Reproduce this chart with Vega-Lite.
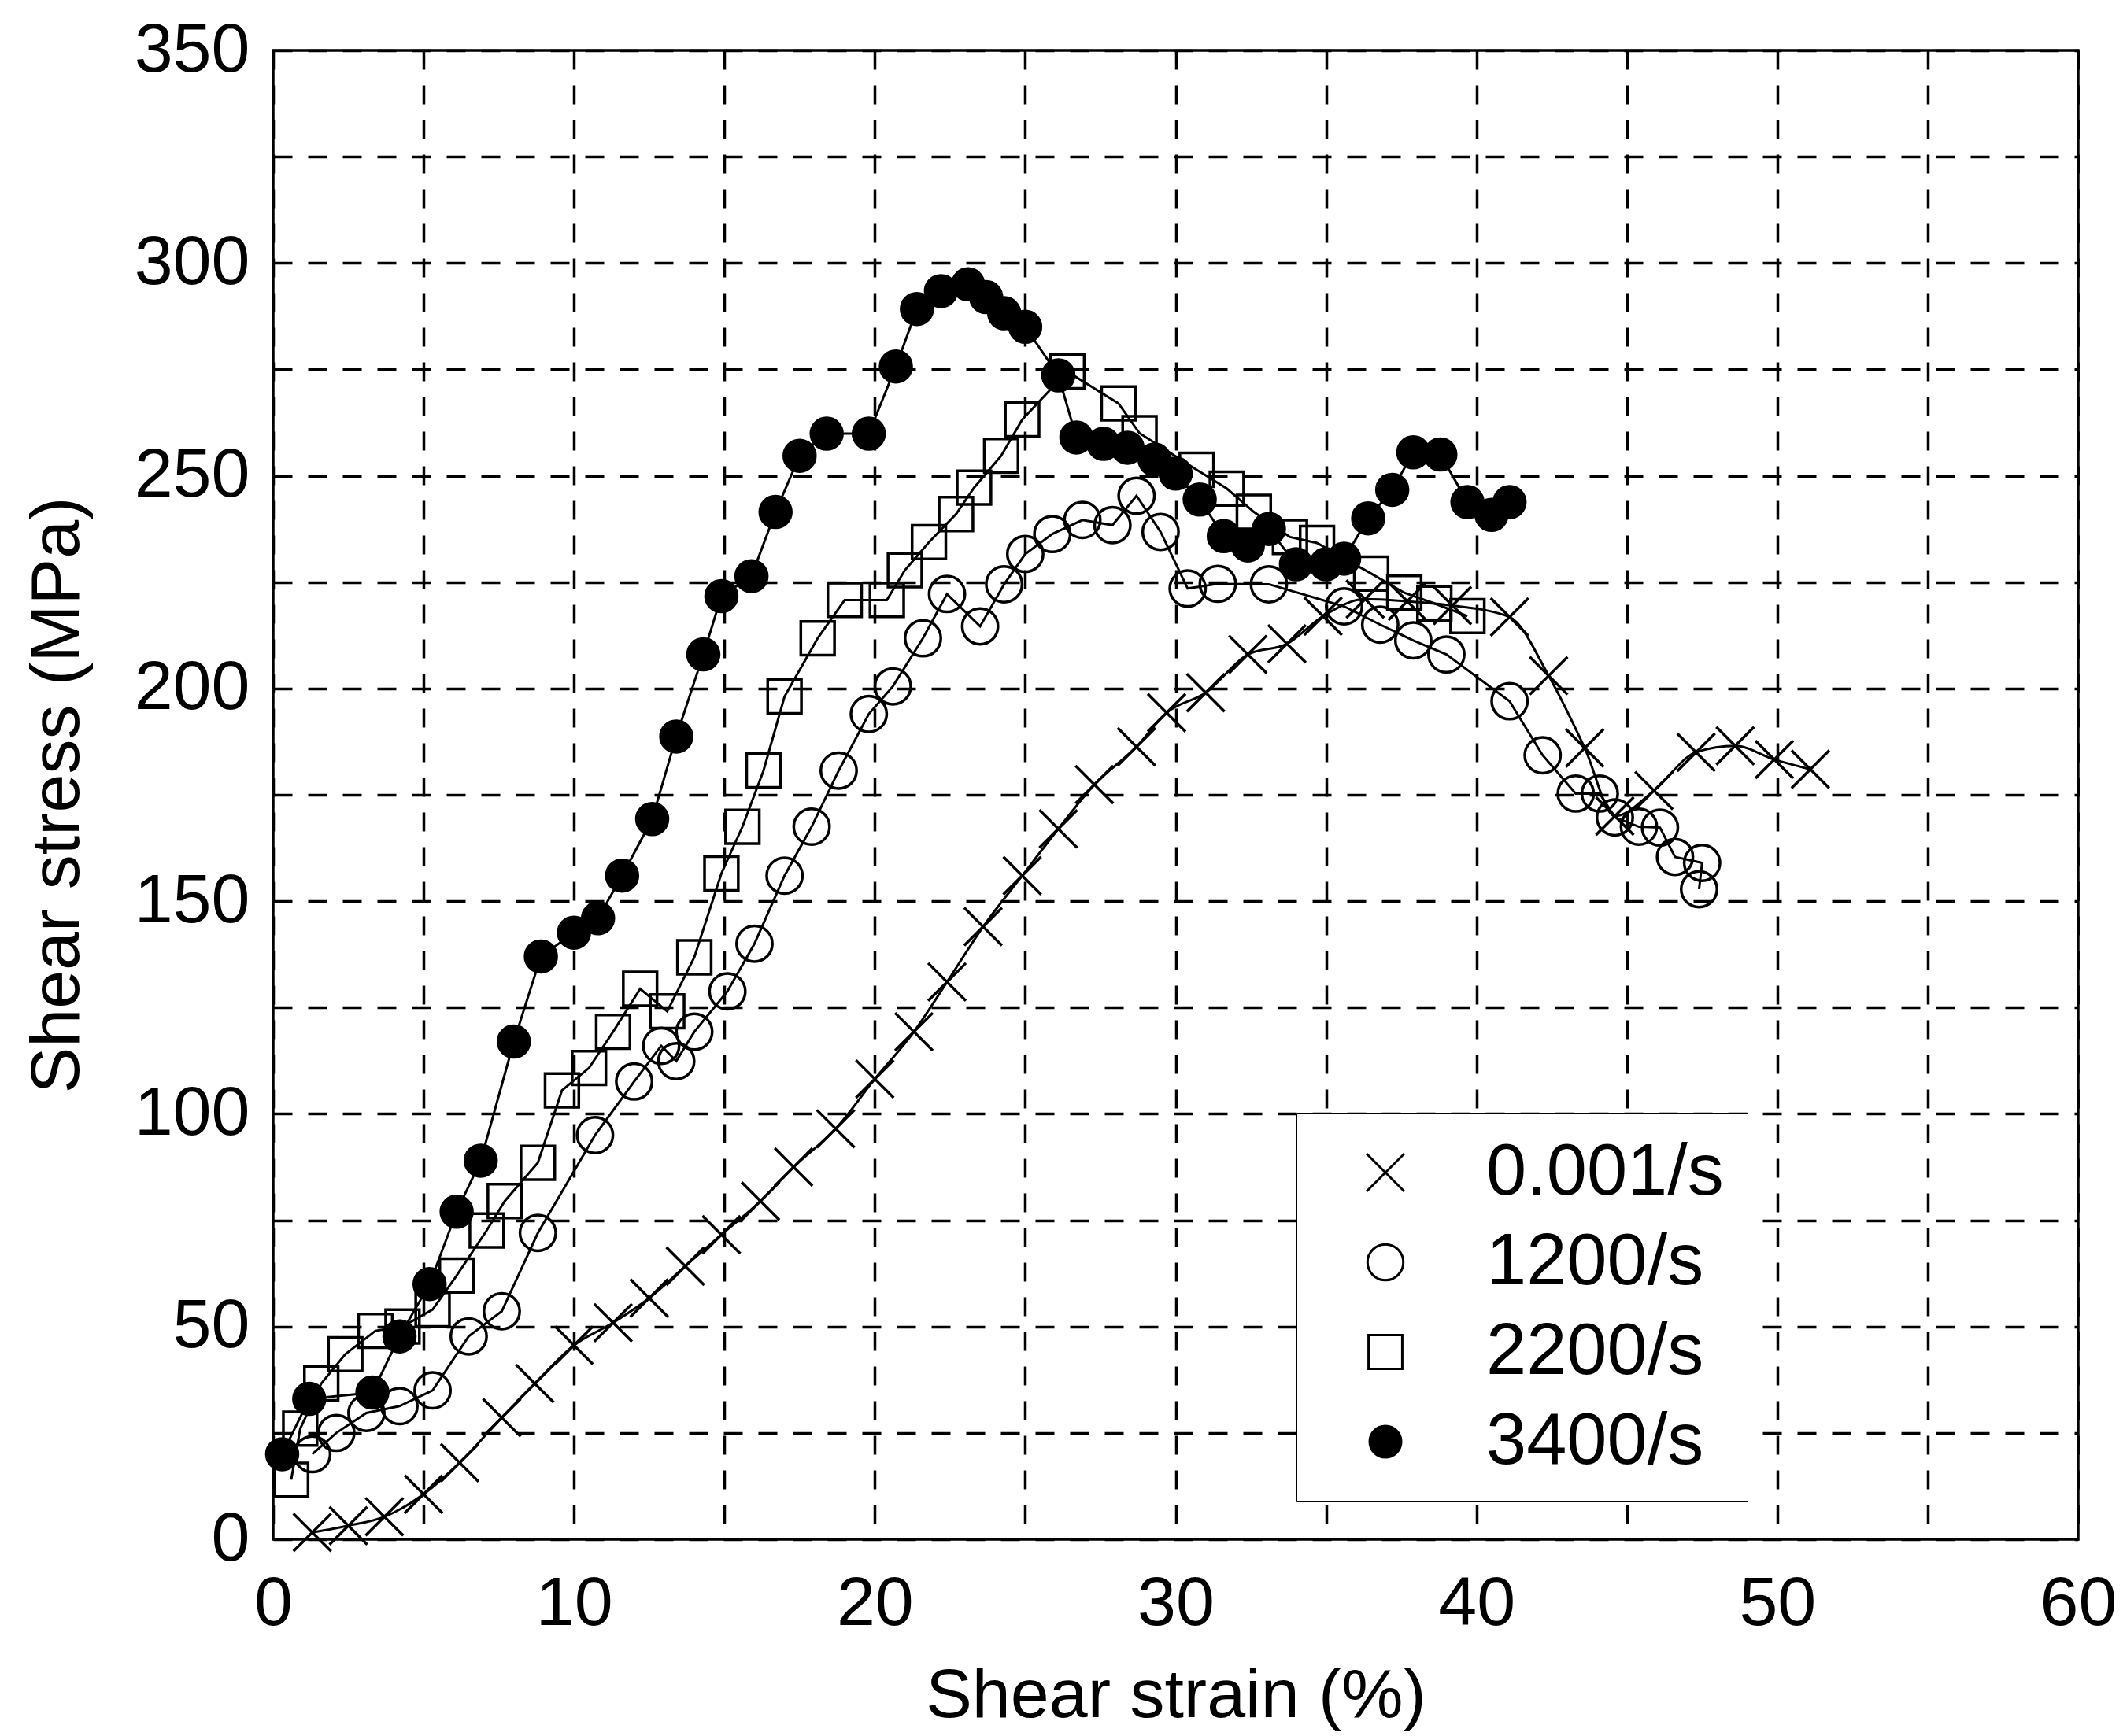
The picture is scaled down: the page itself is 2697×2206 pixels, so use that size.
{
  "$schema": "https://vega.github.io/schema/vega-lite/v6.json",
  "width": 2293,
  "height": 1892,
  "autosize": {"type": "none"},
  "padding": {"left": 347, "top": 64, "right": 57, "bottom": 250},
  "background": "white",
  "config": {
    "view": {"stroke": "black", "strokeWidth": 3.5},
    "font": "Liberation Sans",
    "axis": {
      "grid": true,
      "gridDash": [24, 20],
      "gridColor": "black",
      "gridWidth": 3.5,
      "gridOpacity": 1,
      "ticks": false,
      "domain": false,
      "labelFont": "Liberation Sans",
      "labelFontSize": 88,
      "labelColor": "black",
      "labelFlush": false,
      "labelOverlap": false,
      "titleFont": "Liberation Sans",
      "titleFontSize": 88,
      "titleFontWeight": "normal",
      "titleColor": "black"
    },
    "legend": {
      "title": null,
      "orient": "none",
      "legendX": 1300,
      "legendY": 1350,
      "padding": 30,
      "strokeColor": "black",
      "fillColor": "white",
      "symbolSize": 1936,
      "symbolOffset": 37,
      "labelOffset": 82,
      "rowPadding": 22,
      "labelFontSize": 92,
      "labelFont": "Liberation Sans",
      "labelColor": "black",
      "labelLimit": 0
    }
  },
  "datasets": {
    "pts": [
      {"s":"0.001/s","i":0,"x":1.3,"y":1.6},{"s":"0.001/s","i":1,"x":2.5,"y":3.2},{"s":"0.001/s","i":2,"x":3.7,"y":5.3},{"s":"0.001/s","i":3,"x":5.0,"y":10.6},{"s":"0.001/s","i":4,"x":6.2,"y":18},{"s":"0.001/s","i":5,"x":7.6,"y":28.6},{"s":"0.001/s","i":6,"x":8.7,"y":36.6},{"s":"0.001/s","i":7,"x":10.0,"y":45.6},{"s":"0.001/s","i":8,"x":11.3,"y":50.9},{"s":"0.001/s","i":9,"x":12.5,"y":56.7},{"s":"0.001/s","i":10,"x":13.7,"y":64.2},{"s":"0.001/s","i":11,"x":14.9,"y":71.6},{"s":"0.001/s","i":12,"x":16.2,"y":79.5},{"s":"0.001/s","i":13,"x":17.3,"y":87.5},{"s":"0.001/s","i":14,"x":18.7,"y":96.5},{"s":"0.001/s","i":15,"x":20.0,"y":108.2},{"s":"0.001/s","i":16,"x":21.3,"y":119.3},{"s":"0.001/s","i":17,"x":22.4,"y":131},{"s":"0.001/s","i":18,"x":23.6,"y":144},{"s":"0.001/s","i":19,"x":24.9,"y":156},{"s":"0.001/s","i":20,"x":26.1,"y":167},{"s":"0.001/s","i":21,"x":27.3,"y":177.4},{"s":"0.001/s","i":22,"x":28.7,"y":186.3},{"s":"0.001/s","i":23,"x":29.7,"y":194.3},{"s":"0.001/s","i":24,"x":31.0,"y":199},{"s":"0.001/s","i":25,"x":32.4,"y":208},{"s":"0.001/s","i":26,"x":33.7,"y":210.5},{"s":"0.001/s","i":27,"x":34.9,"y":217},{"s":"0.001/s","i":28,"x":36.3,"y":221},{"s":"0.001/s","i":29,"x":37.7,"y":220.5},{"s":"0.001/s","i":30,"x":39.2,"y":219.5},{"s":"0.001/s","i":31,"x":41.1,"y":216.8},{"s":"0.001/s","i":32,"x":42.4,"y":203},{"s":"0.001/s","i":33,"x":43.6,"y":186},{"s":"0.001/s","i":34,"x":44.6,"y":170},{"s":"0.001/s","i":35,"x":45.9,"y":176},{"s":"0.001/s","i":36,"x":47.3,"y":185},{"s":"0.001/s","i":37,"x":48.6,"y":186.5},{"s":"0.001/s","i":38,"x":49.9,"y":183.3},{"s":"0.001/s","i":39,"x":51.1,"y":181},
      {"s":"1200/s","i":0,"x":1.3,"y":20},{"s":"1200/s","i":1,"x":2.1,"y":25},{"s":"1200/s","i":2,"x":3.1,"y":29.7},{"s":"1200/s","i":3,"x":4.2,"y":31.3},{"s":"1200/s","i":4,"x":5.3,"y":35},{"s":"1200/s","i":5,"x":6.5,"y":47.7},{"s":"1200/s","i":6,"x":7.6,"y":53.6},{"s":"1200/s","i":7,"x":8.8,"y":72},{"s":"1200/s","i":8,"x":10.7,"y":95},{"s":"1200/s","i":9,"x":12.0,"y":107.6},{"s":"1200/s","i":10,"x":12.9,"y":116},{"s":"1200/s","i":11,"x":13.4,"y":112.4},{"s":"1200/s","i":12,"x":14.0,"y":119.3},{"s":"1200/s","i":13,"x":15.1,"y":128.8},{"s":"1200/s","i":14,"x":16.0,"y":140},{"s":"1200/s","i":15,"x":17.0,"y":156},{"s":"1200/s","i":16,"x":17.9,"y":167.5},{"s":"1200/s","i":17,"x":18.8,"y":180.7},{"s":"1200/s","i":18,"x":19.8,"y":194},{"s":"1200/s","i":19,"x":20.6,"y":200.5},{"s":"1200/s","i":20,"x":21.6,"y":211.8},{"s":"1200/s","i":21,"x":22.4,"y":222.2},{"s":"1200/s","i":22,"x":23.5,"y":214.6},{"s":"1200/s","i":23,"x":24.3,"y":224.5},{"s":"1200/s","i":24,"x":25.0,"y":231.6},{"s":"1200/s","i":25,"x":25.9,"y":236.3},{"s":"1200/s","i":26,"x":26.9,"y":239.6},{"s":"1200/s","i":27,"x":27.9,"y":238.4},{"s":"1200/s","i":28,"x":28.7,"y":245.3},{"s":"1200/s","i":29,"x":29.5,"y":236.8},{"s":"1200/s","i":30,"x":30.4,"y":223.5},{"s":"1200/s","i":31,"x":31.4,"y":224.6},{"s":"1200/s","i":32,"x":33.1,"y":224.5},{"s":"1200/s","i":33,"x":35.6,"y":219.3},{"s":"1200/s","i":34,"x":36.8,"y":215},{"s":"1200/s","i":35,"x":37.9,"y":211.3},{"s":"1200/s","i":36,"x":39.0,"y":208},{"s":"1200/s","i":37,"x":41.1,"y":197},{"s":"1200/s","i":38,"x":42.2,"y":184.3},{"s":"1200/s","i":39,"x":43.3,"y":175.3},{"s":"1200/s","i":40,"x":44.1,"y":175.3},{"s":"1200/s","i":41,"x":44.6,"y":169.7},{"s":"1200/s","i":42,"x":45.4,"y":167.5},{"s":"1200/s","i":43,"x":46.1,"y":167.3},{"s":"1200/s","i":44,"x":46.6,"y":160.4},{"s":"1200/s","i":45,"x":47.5,"y":159},{"s":"1200/s","i":46,"x":47.4,"y":152.8},
      {"s":"2200/s","i":0,"x":0.6,"y":14},{"s":"2200/s","i":1,"x":0.9,"y":26},{"s":"2200/s","i":2,"x":1.6,"y":36.6},{"s":"2200/s","i":3,"x":2.4,"y":43.5},{"s":"2200/s","i":4,"x":3.4,"y":49},{"s":"2200/s","i":5,"x":4.3,"y":50},{"s":"2200/s","i":6,"x":5.3,"y":54},{"s":"2200/s","i":7,"x":6.1,"y":62},{"s":"2200/s","i":8,"x":7.1,"y":72.6},{"s":"2200/s","i":9,"x":7.7,"y":79.5},{"s":"2200/s","i":10,"x":8.8,"y":88.5},{"s":"2200/s","i":11,"x":9.6,"y":105.5},{"s":"2200/s","i":12,"x":10.5,"y":110.8},{"s":"2200/s","i":13,"x":11.3,"y":119.3},{"s":"2200/s","i":14,"x":12.2,"y":129.4},{"s":"2200/s","i":15,"x":13.1,"y":124.1},{"s":"2200/s","i":16,"x":14.0,"y":136.8},{"s":"2200/s","i":17,"x":14.9,"y":156.5},{"s":"2200/s","i":18,"x":15.6,"y":167.5},{"s":"2200/s","i":19,"x":16.3,"y":180.7},{"s":"2200/s","i":20,"x":17.0,"y":198.1},{"s":"2200/s","i":21,"x":18.1,"y":211.8},{"s":"2200/s","i":22,"x":19.0,"y":220.8},{"s":"2200/s","i":23,"x":20.4,"y":220.8},{"s":"2200/s","i":24,"x":21.0,"y":227.8},{"s":"2200/s","i":25,"x":21.8,"y":234.4},{"s":"2200/s","i":26,"x":22.7,"y":241},{"s":"2200/s","i":27,"x":23.3,"y":247.2},{"s":"2200/s","i":28,"x":24.2,"y":254.7},{"s":"2200/s","i":29,"x":24.9,"y":263.2},{"s":"2200/s","i":30,"x":26.4,"y":274.5},{"s":"2200/s","i":31,"x":28.1,"y":267},{"s":"2200/s","i":32,"x":28.8,"y":260},{"s":"2200/s","i":33,"x":30.7,"y":251.4},{"s":"2200/s","i":34,"x":31.7,"y":247},{"s":"2200/s","i":35,"x":32.6,"y":241.5},{"s":"2200/s","i":36,"x":33.8,"y":235.6},{"s":"2200/s","i":37,"x":34.7,"y":234.2},{"s":"2200/s","i":38,"x":36.5,"y":227},{"s":"2200/s","i":39,"x":37.6,"y":222.5},{"s":"2200/s","i":40,"x":38.6,"y":220},{"s":"2200/s","i":41,"x":39.7,"y":217},
      {"s":"3400/s","i":0,"x":0.3,"y":20},{"s":"3400/s","i":1,"x":1.2,"y":33},{"s":"3400/s","i":2,"x":3.3,"y":34.5},{"s":"3400/s","i":3,"x":4.2,"y":47.7},{"s":"3400/s","i":4,"x":5.2,"y":60},{"s":"3400/s","i":5,"x":6.1,"y":77},{"s":"3400/s","i":6,"x":6.9,"y":89},{"s":"3400/s","i":7,"x":8.0,"y":117},{"s":"3400/s","i":8,"x":8.9,"y":137},{"s":"3400/s","i":9,"x":10.0,"y":142.6},{"s":"3400/s","i":10,"x":10.8,"y":146},{"s":"3400/s","i":11,"x":11.6,"y":156},{"s":"3400/s","i":12,"x":12.6,"y":169.3},{"s":"3400/s","i":13,"x":13.4,"y":188.7},{"s":"3400/s","i":14,"x":14.3,"y":208},{"s":"3400/s","i":15,"x":14.9,"y":221.7},{"s":"3400/s","i":16,"x":15.9,"y":226.4},{"s":"3400/s","i":17,"x":16.7,"y":241.5},{"s":"3400/s","i":18,"x":17.5,"y":254.7},{"s":"3400/s","i":19,"x":18.4,"y":259.9},{"s":"3400/s","i":20,"x":19.8,"y":259.9},{"s":"3400/s","i":21,"x":20.7,"y":275.7},{"s":"3400/s","i":22,"x":21.4,"y":289.2},{"s":"3400/s","i":23,"x":22.2,"y":293.4},{"s":"3400/s","i":24,"x":23.1,"y":295},{"s":"3400/s","i":25,"x":23.7,"y":292},{"s":"3400/s","i":26,"x":24.3,"y":288.2},{"s":"3400/s","i":27,"x":25.0,"y":285},{"s":"3400/s","i":28,"x":26.1,"y":273.6},{"s":"3400/s","i":29,"x":26.7,"y":259},{"s":"3400/s","i":30,"x":27.6,"y":257.5},{"s":"3400/s","i":31,"x":28.4,"y":256.6},{"s":"3400/s","i":32,"x":29.3,"y":253.8},{"s":"3400/s","i":33,"x":30.0,"y":250.5},{"s":"3400/s","i":34,"x":30.8,"y":244.4},{"s":"3400/s","i":35,"x":31.6,"y":235.8},{"s":"3400/s","i":36,"x":32.4,"y":233.6},{"s":"3400/s","i":37,"x":33.1,"y":237.5},{"s":"3400/s","i":38,"x":34.0,"y":229.2},{"s":"3400/s","i":39,"x":35.0,"y":229.2},{"s":"3400/s","i":40,"x":35.6,"y":230.5},{"s":"3400/s","i":41,"x":36.4,"y":240},{"s":"3400/s","i":42,"x":37.2,"y":246.7},{"s":"3400/s","i":43,"x":37.9,"y":255.5},{"s":"3400/s","i":44,"x":38.8,"y":255},{"s":"3400/s","i":45,"x":39.7,"y":243.8},{"s":"3400/s","i":46,"x":40.5,"y":240.8},{"s":"3400/s","i":47,"x":41.1,"y":243.8}
    ]
  },
  "data": {"name": "pts"},
  "encoding": {
    "x": {
      "field": "x",
      "type": "quantitative",
      "scale": {"domain": [0, 60], "nice": false, "zero": false},
      "axis": {
        "values": [0, 5, 10, 15, 20, 25, 30, 35, 40, 45, 50, 55, 60],
        "labelExpr": "datum.value % 10 == 0 ? datum.label : ''",
        "labelPadding": 38,
        "title": "Shear strain (%)",
        "titleX": 1146.5,
        "titleY": 225,
        "titleAlign": "center",
        "titleBaseline": "alphabetic"
      }
    },
    "y": {
      "field": "y",
      "type": "quantitative",
      "scale": {"domain": [0, 350], "nice": false, "zero": false},
      "axis": {
        "values": [0, 25, 50, 75, 100, 125, 150, 175, 200, 225, 250, 275, 300, 325, 350],
        "labelExpr": "datum.value % 50 == 0 ? datum.label : ''",
        "labelPadding": 30,
        "title": "Shear stress (MPa)",
        "titleAngle": 270,
        "titleX": -248,
        "titleY": 946,
        "titleAlign": "center",
        "titleBaseline": "alphabetic"
      }
    }
  },
  "layer": [
    {
      "transform": [{"filter": "datum.s == '0.001/s'"}],
      "mark": {"type": "line", "interpolate": "monotone", "color": "black", "strokeWidth": 3},
      "encoding": {"order": {"field": "i", "type": "quantitative"}}
    },
    {
      "transform": [{"filter": "datum.s != '0.001/s'"}],
      "mark": {"type": "line", "color": "black", "strokeWidth": 3},
      "encoding": {
        "detail": {"field": "s", "type": "nominal"},
        "order": {"field": "i", "type": "quantitative"}
      }
    },
    {
      "mark": {"type": "point", "filled": true, "stroke": "black", "strokeWidth": 3.5, "opacity": 1, "fillOpacity": 1, "strokeOpacity": 1},
      "encoding": {
        "shape": {
          "field": "s",
          "type": "nominal",
          "scale": {
            "domain": ["0.001/s", "1200/s", "2200/s", "3400/s"],
            "range": ["M-1,-1L1,1M-1,1L1,-1", "circle", "square", "circle"]
          },
          "legend": {
            "title": null,
            "orient": "none",
            "legendX": 1300,
            "legendY": 1350,
            "padding": 30,
            "strokeColor": "black",
            "fillColor": "white",
            "symbolStrokeWidth": 3,
            "symbolStrokeColor": "black",
            "symbolOffset": 37,
            "labelOffset": 82,
            "rowPadding": 22,
            "labelFontSize": 92,
            "labelFont": "Liberation Sans",
            "labelColor": "black",
            "labelLimit": 0
          }
        },
        "fill": {
          "field": "s",
          "type": "nominal",
          "scale": {
            "domain": ["0.001/s", "1200/s", "2200/s", "3400/s"],
            "range": ["transparent", "transparent", "transparent", "black"]
          }
        },
        "size": {
          "field": "s",
          "type": "nominal",
          "scale": {
            "domain": ["0.001/s", "1200/s", "2200/s", "3400/s"],
            "range": [2300, 1600, 1444, 1444]
          }
        }
      }
    }
  ]
}
